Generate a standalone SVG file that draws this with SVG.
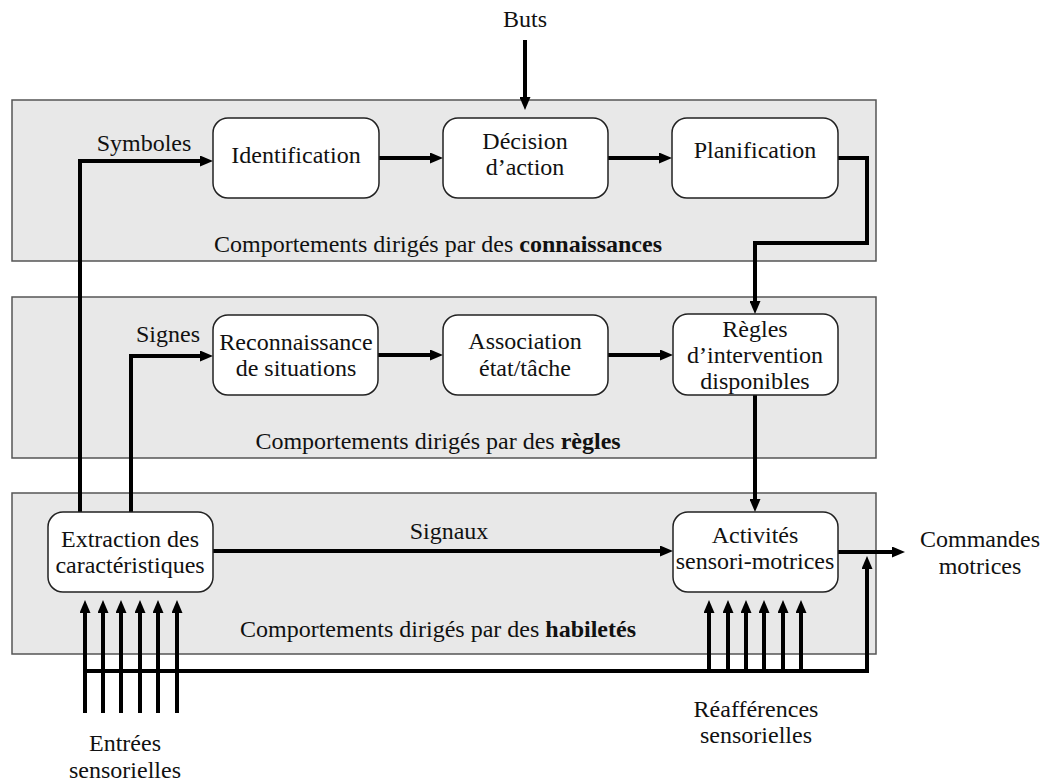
<svg xmlns="http://www.w3.org/2000/svg" width="1049" height="781" viewBox="0 0 1049 781">
<defs>
<style>
.panel{fill:#e8e8e8;stroke:#555;stroke-width:1.5}
.node{fill:#fff;stroke:#222;stroke-width:1.5}
text{font-family:"Liberation Serif","Times New Roman",serif;font-size:24px;fill:#111;text-anchor:middle}
.c{fill:none;stroke:#000;stroke-width:4;marker-end:url(#ah)}
.p{fill:none;stroke:#000;stroke-width:4}
.b{font-weight:bold}
</style>
<marker id="ah" markerUnits="userSpaceOnUse" markerWidth="13" markerHeight="11" refX="4" refY="5.5" orient="auto">
<path d="M0,0 L13,5.5 L0,11 z" fill="#000"/>
</marker>
</defs>
<rect width="1049" height="781" fill="#fff"/>
<g id="panel-connaissances"><rect class="panel" x="12" y="100" width="864" height="161"/><text x="438" y="252">Comportements dirigés par des <tspan class="b">connaissances</tspan></text></g>
<g id="panel-regles"><rect class="panel" x="12" y="297" width="864" height="161"/><text x="438" y="449">Comportements dirigés par des <tspan class="b">règles</tspan></text></g>
<g id="panel-habiletes"><rect class="panel" x="12" y="493" width="864" height="161"/><text x="438" y="637">Comportements dirigés par des <tspan class="b">habiletés</tspan></text></g>
<g id="connectors">
<path class="c" d="M525,40 V101"/>
<path class="c" d="M80,512 V161 H204"/>
<path class="c" d="M131,512 V356 H204"/>
<path class="c" d="M379,158 H434"/>
<path class="c" d="M608,158 H663"/>
<path class="c" d="M838,158 H867 V243 H755 V305"/>
<path class="c" d="M378,355 H434"/>
<path class="c" d="M608,355 H664"/>
<path class="c" d="M755,395 V503"/>
<path class="c" d="M213,551 H664"/>
<path class="c" d="M838,552 H896"/>
<path class="c" d="M85,713 V609"/>
<path class="c" d="M103,713 V609"/>
<path class="c" d="M121,713 V609"/>
<path class="c" d="M140,713 V609"/>
<path class="c" d="M158,713 V609"/>
<path class="c" d="M177,713 V609"/>
<path class="p" d="M85,671 H867"/>
<path class="c" d="M867,673 V565"/>
<path class="c" d="M709,671 V609"/>
<path class="c" d="M728,671 V609"/>
<path class="c" d="M746,671 V609"/>
<path class="c" d="M764,671 V609"/>
<path class="c" d="M783,671 V609"/>
<path class="c" d="M801,671 V609"/>
<text x="144" y="151">Symboles</text>
<text x="168" y="342">Signes</text>
<text x="449" y="539">Signaux</text>
</g>
<g id="buts"><text x="525" y="27">Buts</text></g>
<g id="identification"><rect class="node" x="213" y="118" width="166" height="80" rx="15"/><text x="296" y="163">Identification</text></g>
<g id="decision"><rect class="node" x="443" y="118" width="165" height="80" rx="15"/><text x="525" y="149">Décision</text><text x="525" y="175">d’action</text></g>
<g id="planification"><rect class="node" x="672" y="118" width="166" height="80" rx="15"/><text x="755" y="158">Planification</text></g>
<g id="reconnaissance"><rect class="node" x="213" y="315" width="165" height="80" rx="15"/><text x="296" y="350">Reconnaissance</text><text x="296" y="376">de situations</text></g>
<g id="association"><rect class="node" x="443" y="315" width="165" height="80" rx="15"/><text x="525" y="349">Association</text><text x="525" y="376">état/tâche</text></g>
<g id="regles"><rect class="node" x="673" y="314" width="165" height="81" rx="15"/><text x="755" y="337">Règles</text><text x="755" y="363">d’intervention</text><text x="755" y="389">disponibles</text></g>
<g id="extraction"><rect class="node" x="48" y="512" width="165" height="80" rx="15"/><text x="130" y="547">Extraction des</text><text x="130" y="573">caractéristiques</text></g>
<g id="activites"><rect class="node" x="673" y="512" width="165" height="80" rx="15"/><text x="755" y="543">Activités</text><text x="755" y="569">sensori-motrices</text></g>
<g id="commandes"><text x="980" y="547">Commandes</text><text x="980" y="574">motrices</text></g>
<g id="entrees"><text x="125" y="751">Entrées</text><text x="125" y="778">sensorielles</text></g>
<g id="reafferences"><text x="756" y="717">Réafférences</text><text x="756" y="743">sensorielles</text></g>
</svg>
